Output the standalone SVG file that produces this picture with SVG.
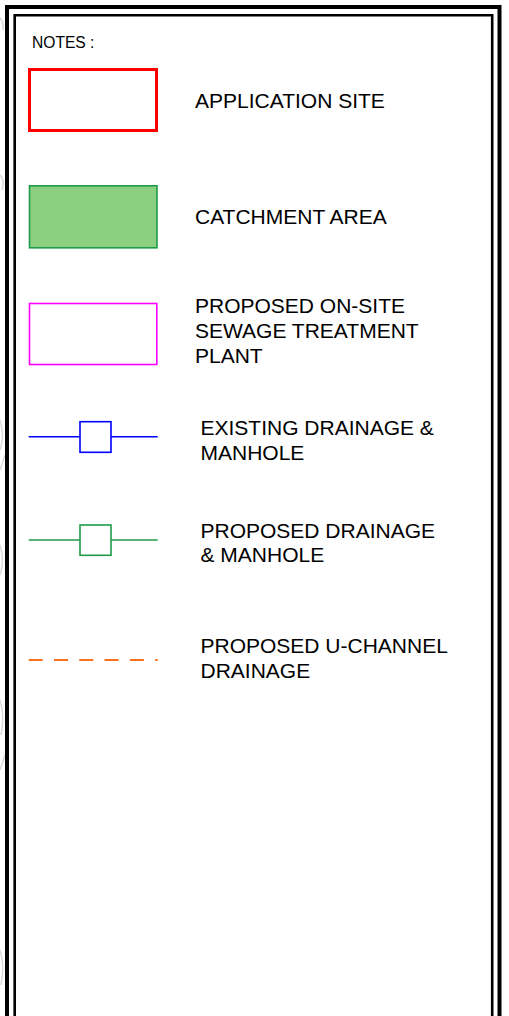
<svg xmlns="http://www.w3.org/2000/svg" width="509" height="1016" viewBox="0 0 509 1016">
<style>
.t{font-family:"Liberation Sans",Arial,sans-serif;font-size:21px;fill:#000}
.n{font-family:"Liberation Sans",Arial,sans-serif;font-size:15.6px;fill:#000}
.frame{fill:none;stroke:#000}
.bg{fill:none;stroke:#d8d8d8;stroke-width:1.5}
</style>
<rect width="509" height="1016" fill="#fff"/>
<g id="background-traces">
<path class="bg" d="M0,18 Q4,22 3,30 M0,175 Q5,180 2,190 M0,420 Q5,435 0,450 M0,470 L5,455 M0,545 Q5,560 0,575 M0,700 Q5,715 1,735 M0,770 L5,755 M0,950 Q5,965 1,985"/>
</g>
<g id="frame">
<path class="frame" d="M7,1016 V7 H499.5 V1016" stroke-width="4"/>
<path class="frame" d="M14.7,1016 V15.3 H492.2 V1016" stroke-width="2.6"/>
</g>
<g id="notes-title"><text class="n" x="32" y="48">NOTES :</text></g>
<g id="application-site">
<rect x="29.5" y="69.5" width="127" height="61" fill="none" stroke="#ff0000" stroke-width="3"/>
<text class="t" x="195" y="108">APPLICATION SITE</text>
</g>
<g id="catchment-area">
<rect x="29.5" y="185.8" width="127.5" height="62" fill="#8ccf80" stroke="#1f9c4a" stroke-width="1.6"/>
<text class="t" x="195" y="224">CATCHMENT AREA</text>
</g>
<g id="sewage-plant">
<rect x="29.5" y="303.5" width="127.3" height="61" fill="none" stroke="#ff00ff" stroke-width="1.6"/>
<text class="t" x="195" y="313">PROPOSED ON-SITE</text>
<text class="t" x="195" y="338">SEWAGE TREATMENT</text>
<text class="t" x="195" y="363">PLANT</text>
</g>
<g id="existing-drainage">
<path d="M28.7,436.7 H80 M111,436.7 H157.7" stroke="#0000ff" stroke-width="1.6" fill="none"/>
<rect x="80" y="421.7" width="31" height="30.6" fill="none" stroke="#0000ff" stroke-width="1.6"/>
<text class="t" x="200.5" y="435">EXISTING DRAINAGE &amp;</text>
<text class="t" x="200.5" y="460">MANHOLE</text>
</g>
<g id="proposed-drainage">
<path d="M28.7,540 H80 M111,540 H157.7" stroke="#1f9c4a" stroke-width="1.6" fill="none"/>
<rect x="80" y="525" width="31" height="30.3" fill="none" stroke="#1f9c4a" stroke-width="1.6"/>
<text class="t" x="200.5" y="538">PROPOSED DRAINAGE</text>
<text class="t" x="200.5" y="562">&amp; MANHOLE</text>
</g>
<g id="u-channel">
<path d="M28.7,660 H157.7" stroke="#f7701e" stroke-width="1.8" fill="none" stroke-dasharray="14 11.3"/>
<text class="t" x="200.5" y="653">PROPOSED U-CHANNEL</text>
<text class="t" x="200.5" y="678">DRAINAGE</text>
</g>
</svg>
